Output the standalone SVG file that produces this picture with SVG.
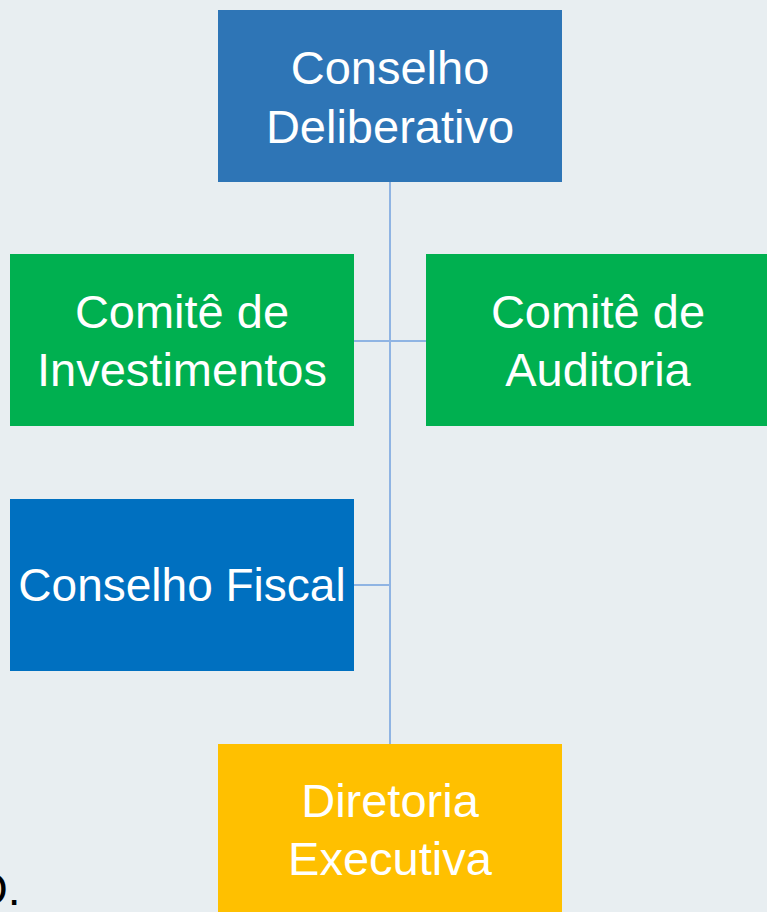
<svg xmlns="http://www.w3.org/2000/svg" width="767" height="912" viewBox="0 0 767 912">
<style>
.t{font-family:"Liberation Sans",Arial,sans-serif;font-size:47px;fill:#ffffff;text-anchor:middle}
.c{stroke:#8fb4e3;stroke-width:2;fill:none}
</style>
<rect x="0" y="0" width="767" height="912" fill="#e8eef1"/>
<g id="connectors">
<line class="c" x1="390" y1="182" x2="390" y2="744"/>
<line class="c" x1="354" y1="341" x2="426" y2="341"/>
<line class="c" x1="354" y1="585" x2="390" y2="585"/>
</g>
<g id="conselho-deliberativo">
<rect x="218" y="10" width="344" height="172" fill="#2e75b6"/>
<text class="t" x="390" y="84">Conselho</text>
<text class="t" x="390" y="143">Deliberativo</text>
</g>
<g id="comite-investimentos">
<rect x="10" y="254" width="344" height="172" fill="#00b050"/>
<text class="t" x="182" y="328">Comitê de</text>
<text class="t" x="182" y="386">Investimentos</text>
</g>
<g id="comite-auditoria">
<rect x="426" y="254" width="344" height="172" fill="#00b050"/>
<text class="t" x="598" y="328">Comitê de</text>
<text class="t" x="598" y="386">Auditoria</text>
</g>
<g id="conselho-fiscal">
<rect x="10" y="499" width="344" height="172" fill="#0070c0"/>
<text class="t" x="182" y="601" style="font-size:46px">Conselho Fiscal</text>
</g>
<g id="diretoria-executiva">
<rect x="218" y="744" width="344" height="172" fill="#ffc000"/>
<text class="t" x="390" y="817">Diretoria</text>
<text class="t" x="390" y="875">Executiva</text>
</g>
<text x="-28" y="905" style="font-family:'Liberation Sans',Arial,sans-serif;font-size:46px;fill:#000000">O.</text>
</svg>
